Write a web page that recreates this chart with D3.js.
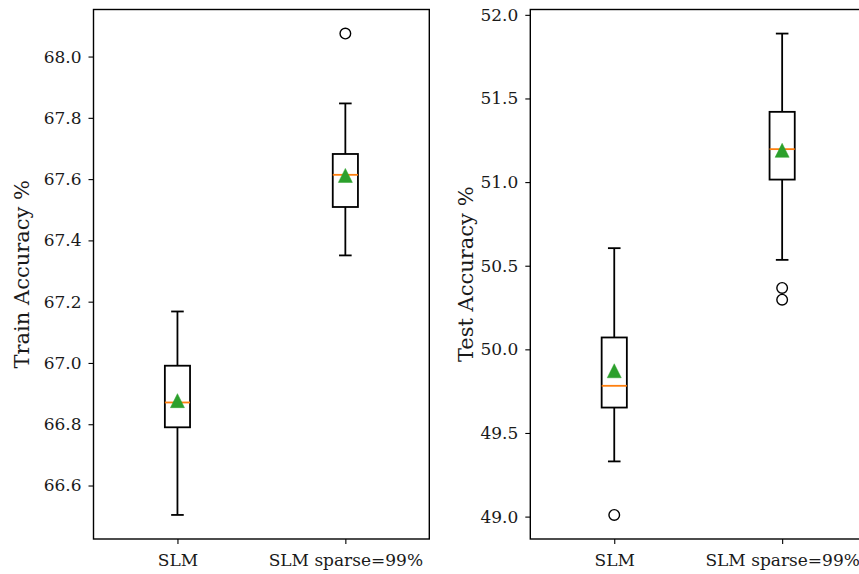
<!DOCTYPE html>
<html>
<head>
<meta charset="utf-8">
<script src="https://cdn.jsdelivr.net/npm/d3@7"></script>
<style>
  html, body { margin: 0; padding: 0; background: #fff; }
  svg { display: block; }
  text { font-family: "DejaVu Serif", "Liberation Serif", serif; fill: #1a1a1a; }
</style>
</head>
<body>
<svg id="chart" width="859" height="574"></svg>
<script>
// ---- Data ----
const categories = ["SLM", "SLM sparse=99%"];

// Train accuracy (left panel)
const trainWhiskerLow  = [66.504, 67.351];
const trainQ1          = [66.790, 67.509];
const trainMedian      = [66.871, 67.614];
const trainQ3          = [66.991, 67.682];
const trainWhiskerHigh = [67.168, 67.847];
const trainMean        = [66.877, 67.612];
const trainOutliers    = [[], [68.075]];
const trainTicks       = [66.6, 66.8, 67.0, 67.2, 67.4, 67.6, 67.8, 68.0];

// Test accuracy (right panel)
const testWhiskerLow  = [49.33, 50.535];
const testQ1          = [49.652, 51.015];
const testMedian      = [49.782, 51.197];
const testQ3          = [50.071, 51.42];
const testWhiskerHigh = [50.605, 51.888];
const testMean        = [49.872, 51.19];
const testOutliers    = [[49.01], [50.367, 50.297]];
const testTicks       = [49.0, 49.5, 50.0, 50.5, 51.0, 51.5, 52.0];

const panels = [
  { label: "Train Accuracy %", lo: trainWhiskerLow, q1: trainQ1, med: trainMedian, q3: trainQ3,
    hi: trainWhiskerHigh, mean: trainMean, out: trainOutliers, ticks: trainTicks,
    left: 93.5, labelX: 29 },
  { label: "Test Accuracy %", lo: testWhiskerLow, q1: testQ1, med: testMedian, q3: testQ3,
    hi: testWhiskerHigh, mean: testMean, out: testOutliers, ticks: testTicks,
    left: 530.3, labelX: 473 }
];

// ---- Layout ----
const svg = d3.select("#chart");
const plotTop = 9.5, plotBottom = 539, axW = 335.8;

panels.forEach(p => {
  // y domain: data extent with 5% margins
  const all = [...p.lo, ...p.hi, ...p.out.flat()];
  const mn = d3.min(all), mx = d3.max(all), pad = (mx - mn) * 0.05;
  const y = d3.scaleLinear().domain([mn - pad, mx + pad]).range([plotBottom, plotTop]);
  const x = d3.scaleLinear().domain([0.5, 2.5]).range([p.left, p.left + axW]);
  const pos = categories.map((c, i) => i + 1);
  const boxW = 0.15, capW = 0.075;

  const g = svg.append("g");

  // Y axis
  const yAxis = d3.axisLeft(y).tickValues(p.ticks).tickFormat(d3.format(".1f"))
    .tickSize(5).tickPadding(7);
  const ya = g.append("g").attr("transform", `translate(${p.left},0)`).call(yAxis);
  ya.select(".domain").remove();
  ya.selectAll(".tick line").attr("stroke", "#000").attr("stroke-width", 1.1);
  ya.selectAll(".tick text").style("font-size", "17px").style("font-family", "DejaVu Serif").attr("fill", "#1a1a1a");

  // X axis
  const xAxis = d3.axisBottom(x).tickValues(pos).tickFormat((d, i) => categories[i])
    .tickSize(5).tickPadding(9.5);
  const xa = g.append("g").attr("transform", `translate(0,${plotBottom})`).call(xAxis);
  xa.select(".domain").remove();
  xa.selectAll(".tick line").attr("stroke", "#000").attr("stroke-width", 1.1);
  xa.selectAll(".tick text").style("font-size", "17px").style("font-family", "DejaVu Serif").attr("fill", "#1a1a1a");

  // Frame
  g.append("rect")
    .attr("x", p.left).attr("y", plotTop).attr("width", axW).attr("height", plotBottom - plotTop)
    .attr("fill", "none").attr("stroke", "#000").attr("stroke-width", 1.4);

  // Y label
  g.append("text")
    .attr("transform", `translate(${p.labelX},${(plotTop + plotBottom) / 2}) rotate(-90)`)
    .attr("text-anchor", "middle")
    .style("font-size", "21px")
    .text(p.label);

  const lw = 1.8;
  pos.forEach((pv, i) => {
    const cx = x(pv);
    // whiskers
    g.append("line").attr("x1", cx).attr("x2", cx).attr("y1", y(p.lo[i])).attr("y2", y(p.q1[i]))
      .attr("stroke", "#000").attr("stroke-width", lw);
    g.append("line").attr("x1", cx).attr("x2", cx).attr("y1", y(p.q3[i])).attr("y2", y(p.hi[i]))
      .attr("stroke", "#000").attr("stroke-width", lw);
    // caps
    [p.lo[i], p.hi[i]].forEach(v => {
      g.append("line").attr("x1", x(pv - capW / 2)).attr("x2", x(pv + capW / 2))
        .attr("y1", y(v)).attr("y2", y(v)).attr("stroke", "#000").attr("stroke-width", lw);
    });
    // box
    g.append("rect")
      .attr("x", x(pv - boxW / 2)).attr("width", x(pv + boxW / 2) - x(pv - boxW / 2))
      .attr("y", y(p.q3[i])).attr("height", y(p.q1[i]) - y(p.q3[i]))
      .attr("fill", "none").attr("stroke", "#000").attr("stroke-width", lw);
    // median
    g.append("line").attr("x1", x(pv - boxW / 2)).attr("x2", x(pv + boxW / 2))
      .attr("y1", y(p.med[i])).attr("y2", y(p.med[i]))
      .attr("stroke", "#ff7f0e").attr("stroke-width", lw);
    // mean triangle
    const my = y(p.mean[i]), h = 7;
    g.append("path")
      .attr("d", `M${cx},${my - h}L${cx - h},${my + h}L${cx + h},${my + h}Z`)
      .attr("fill", "#2ca02c").attr("stroke", "#2ca02c").attr("stroke-width", 0.5);
    // outliers
    p.out[i].forEach(v => {
      g.append("circle").attr("cx", cx).attr("cy", y(v)).attr("r", 5.3)
        .attr("fill", "none").attr("stroke", "#000").attr("stroke-width", 1.4);
    });
  });
});
</script>
</body>
</html>
